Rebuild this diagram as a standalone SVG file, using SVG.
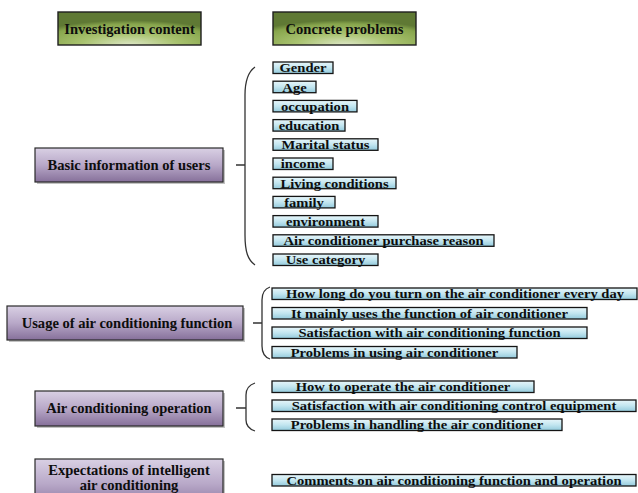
<svg xmlns="http://www.w3.org/2000/svg" width="638" height="493" viewBox="0 0 638 493">
  <defs>
    <radialGradient id="gGreen" cx="0.5" cy="1" r="0.75" fx="0.5" fy="1">
      <stop offset="0" stop-color="#dde7c6"/>
      <stop offset="0.45" stop-color="#a9c370"/>
      <stop offset="0.85" stop-color="#87a54c"/>
      <stop offset="1" stop-color="#5f7934"/>
    </radialGradient>
    <linearGradient id="gPurple" x1="0" y1="0" x2="0" y2="1">
      <stop offset="0" stop-color="#d9d0e4"/>
      <stop offset="0.5" stop-color="#b8a8c8"/>
      <stop offset="1" stop-color="#86709a"/>
    </linearGradient>
    <linearGradient id="gBlue" x1="0" y1="0" x2="0" y2="1">
      <stop offset="0" stop-color="#e8f6fa"/>
      <stop offset="0.5" stop-color="#c3e6f0"/>
      <stop offset="1" stop-color="#93cadc"/>
    </linearGradient>
  </defs>
  <style>
    text { font-family: "Liberation Serif", "Times New Roman", serif; font-weight: bold; fill: #0d0d0d; text-anchor: middle; }
    .h { font-size: 14px; }
    .p { font-size: 14px; }
    .b { font-size: 13.5px; }
    .green { fill: url(#gGreen); stroke: #1e1e1e; stroke-width: 1.4; }
    .purple { fill: url(#gPurple); stroke: #2a2a2a; stroke-width: 1.2; }
    .shadow { fill: #9a9a9a; opacity: 0.6; }
    .blue { fill: url(#gBlue); stroke: #141414; stroke-width: 1.3; }
    .brace { fill: none; stroke: #333; stroke-width: 1.3; }
  </style>

  <rect width="638" height="493" fill="#fff"/>

  <!-- column headers -->
  <g id="hdr-content">
    <rect class="green" x="58" y="12" width="143" height="33"/>
    <text class="h" transform="translate(129.5 33.5) scale(1.04 1)">Investigation content</text>
  </g>
  <g id="hdr-problems">
    <rect class="green" x="273" y="12" width="143" height="33"/>
    <text class="h" transform="translate(344.5 33.5) scale(1.04 1)">Concrete problems</text>
  </g>

  <!-- investigation topics -->
  <g id="topic-basic">
    <rect class="shadow" x="37" y="150" width="188" height="34"/>
    <rect class="purple" x="35" y="148" width="188" height="34"/>
    <text class="p" transform="translate(129 169.5) scale(1.04 1)">Basic information of users</text>
  </g>
  <g id="topic-usage">
    <rect class="shadow" x="9" y="308" width="236" height="34"/>
    <rect class="purple" x="7" y="306" width="236" height="34"/>
    <text class="p" transform="translate(127 327.5) scale(1.04 1)">Usage of air conditioning function</text>
  </g>
  <g id="topic-operation">
    <rect class="shadow" x="37" y="393" width="188" height="35"/>
    <rect class="purple" x="35" y="391" width="188" height="35"/>
    <text class="p" transform="translate(129 413) scale(1.04 1)">Air conditioning operation</text>
  </g>
  <g id="topic-expectations">
    <rect class="shadow" x="37" y="461" width="188" height="50"/>
    <rect class="purple" x="35" y="459" width="188" height="50"/>
    <text class="p" transform="translate(129 474.5) scale(1.04 1)">Expectations of intelligent</text>
    <text class="p" transform="translate(129 490) scale(1.04 1)">air conditioning</text>
  </g>

  <!-- braces joining topics to their problems -->
  <g id="connectors">
    <path class="brace" d="M236,165 H245 M255,67 C248,72 245,80 245,95 L245,235 C245,252 248,260 255,265"/>
    <path class="brace" d="M253,323 H262 M270,287 C264,289 262,293 262,300 L262,346 C262,353 264,357 270,359"/>
    <path class="brace" d="M236,408 H246 M255,383 C249,385 246,389 246,395 L246,420 C246,426 249,429 255,431"/>
  </g>

  <!-- problems: basic information -->
  <g id="p-gender"><rect class="blue" x="273" y="62" width="60" height="11.5"/><text class="b" transform="translate(303 72.3) scale(1.08 1)">Gender</text></g>
  <g id="p-age"><rect class="blue" x="273" y="81.2" width="43" height="11.5"/><text class="b" transform="translate(294.5 91.5) scale(1.08 1)">Age</text></g>
  <g id="p-occupation"><rect class="blue" x="273" y="100.4" width="84" height="11.5"/><text class="b" transform="translate(315 110.7) scale(1.08 1)">occupation</text></g>
  <g id="p-education"><rect class="blue" x="273" y="119.6" width="72" height="11.5"/><text class="b" transform="translate(309 129.9) scale(1.08 1)">education</text></g>
  <g id="p-marital"><rect class="blue" x="273" y="138.8" width="105" height="11.5"/><text class="b" transform="translate(325.5 149.1) scale(1.08 1)">Marital status</text></g>
  <g id="p-income"><rect class="blue" x="273" y="158" width="60" height="11.5"/><text class="b" transform="translate(303 168.3) scale(1.08 1)">income</text></g>
  <g id="p-living"><rect class="blue" x="273" y="177.2" width="123" height="11.5"/><text class="b" transform="translate(334.5 187.5) scale(1.08 1)">Living conditions</text></g>
  <g id="p-family"><rect class="blue" x="273" y="196.4" width="62" height="11.5"/><text class="b" transform="translate(304 206.7) scale(1.08 1)">family</text></g>
  <g id="p-environment"><rect class="blue" x="273" y="215.6" width="105" height="11.5"/><text class="b" transform="translate(325.5 225.9) scale(1.08 1)">environment</text></g>
  <g id="p-purchase"><rect class="blue" x="273" y="234.8" width="221" height="11.5"/><text class="b" transform="translate(383.5 245.1) scale(1.08 1)">Air conditioner purchase reason</text></g>
  <g id="p-category"><rect class="blue" x="273" y="254" width="105" height="11.5"/><text class="b" transform="translate(325.5 264.3) scale(1.08 1)">Use category</text></g>

  <!-- problems: usage of function -->
  <g id="p-hours"><rect class="blue" x="272" y="288" width="365" height="11.5"/><text class="b" transform="translate(455 298.3) scale(1.08 1)">How long do you turn on the air conditioner every day</text></g>
  <g id="p-mainfunc"><rect class="blue" x="272" y="307.5" width="315" height="11.5"/><text class="b" transform="translate(429.5 317.8) scale(1.08 1)">It mainly uses the function of air conditioner</text></g>
  <g id="p-funcsat"><rect class="blue" x="272" y="327" width="315" height="11.5"/><text class="b" transform="translate(429.5 337.3) scale(1.08 1)">Satisfaction with air conditioning function</text></g>
  <g id="p-useprob"><rect class="blue" x="272" y="346.5" width="245" height="11.5"/><text class="b" transform="translate(394.5 356.8) scale(1.08 1)">Problems in using air conditioner</text></g>

  <!-- problems: operation -->
  <g id="p-howop"><rect class="blue" x="272" y="381" width="262" height="11.5"/><text class="b" transform="translate(403 391.3) scale(1.08 1)">How to operate the air conditioner</text></g>
  <g id="p-ctrlsat"><rect class="blue" x="272" y="400" width="364" height="11.5"/><text class="b" transform="translate(454 410.3) scale(1.08 1)">Satisfaction with air conditioning control equipment</text></g>
  <g id="p-handling"><rect class="blue" x="272" y="419" width="290" height="11.5"/><text class="b" transform="translate(417 429.3) scale(1.08 1)">Problems in handling the air conditioner</text></g>

  <!-- problems: expectations -->
  <g id="p-comments"><rect class="blue" x="272" y="474.5" width="364" height="11.5"/><text class="b" transform="translate(454 484.8) scale(1.08 1)">Comments on air conditioning function and operation</text></g>
</svg>
